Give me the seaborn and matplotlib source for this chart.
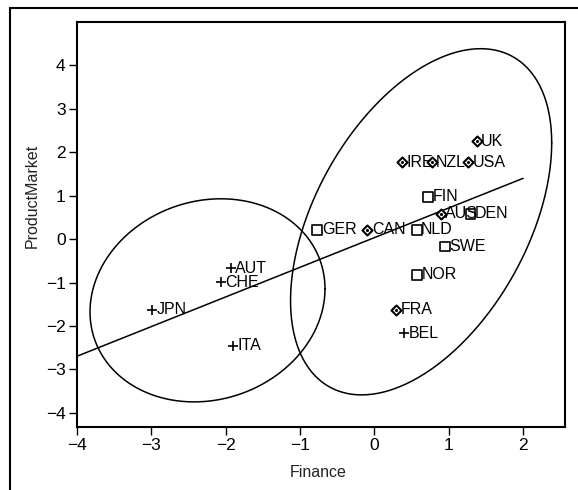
import numpy as np
import pandas as pd
import matplotlib
matplotlib.use("Agg")
import matplotlib.pyplot as plt
from matplotlib.patches import Rectangle
from matplotlib import font_manager
import seaborn as sns

# ---- data ----
countries = ["UK", "IRE", "NZL", "USA", "FIN", "AUS", "DEN", "GER", "CAN",
             "NLD", "SWE", "NOR", "FRA", "BEL", "AUT", "CHE", "JPN", "ITA"]
finance = [1.376, 0.368, 0.771, 1.263, 0.726, 0.896, 1.293, -0.766, -0.094,
           0.570, 0.950, 0.578, 0.292, 0.399, -1.926, -2.065, -2.984, -1.903]
product_market = [2.25, 1.765, 1.765, 1.765, 0.97, 0.583, 0.583, 0.214, 0.214,
                  0.214, -0.17, -0.82, -1.63, -2.17, -0.67, -0.99, -1.63, -2.46]
symbol = ["diamond", "diamond", "diamond", "diamond", "square", "diamond", "square",
          "square", "diamond", "square", "square", "square", "diamond", "plus",
          "plus", "plus", "plus", "plus"]

# fitted line end points
line_x = [-4.0, 2.0]
line_y = [-2.70, 1.40]

# ellipses: centre and covariance-like shape (x var, y var, xy cov)
ell_cx = [-2.242, 0.629]
ell_cy = [-1.41, 0.399]
ell_sxx = [2.494, 3.08]
ell_syy = [5.47, 15.89]
ell_sxy = [0.42, 3.19]

x_ticks = [-4, -3, -2, -1, 0, 1, 2]
y_ticks = [-4, -3, -2, -1, 0, 1, 2, 3, 4]

df = pd.DataFrame({"Finance": finance, "ProductMarket": product_market,
                   "country": countries, "symbol": symbol})

sns.set_theme(style="white")
plt.rcParams["font.family"] = ["Liberation Sans", "DejaVu Sans"]

installed = {f.name for f in font_manager.fontManager.ttflist}
label_family = ["Liberation Sans Narrow"] if "Liberation Sans Narrow" in installed else ["Liberation Sans"]
label_size = 13 if "Liberation Sans Narrow" in installed else 11.5

fig = plt.figure(figsize=(5.78, 4.9), dpi=100)
ax = fig.add_axes([76.7 / 578, 1 - 426.7 / 490, (564.5 - 76.7) / 578, (426.7 - 22) / 490])

# ellipses
t = np.linspace(0, 2 * np.pi, 400)
for cx, cy, sxx, syy, sxy in zip(ell_cx, ell_cy, ell_sxx, ell_syy, ell_sxy):
    L = np.linalg.cholesky(np.array([[sxx, sxy], [sxy, syy]]))
    pts = L @ np.vstack([np.cos(t), np.sin(t)])
    sns.lineplot(x=cx + pts[0], y=cy + pts[1], sort=False, color="black",
                 lw=1.1, ax=ax, estimator=None)

# line
sns.lineplot(x=line_x, y=line_y, color="black", lw=1.1, ax=ax, estimator=None)

# markers
d = df[df.symbol == "diamond"]
sns.scatterplot(data=d, x="Finance", y="ProductMarket", marker="D", s=26,
                facecolor="white", edgecolor="black", linewidth=1.5, ax=ax, zorder=3)
sns.scatterplot(data=d, x="Finance", y="ProductMarket", marker="o", s=5,
                color="black", linewidth=0, ax=ax, zorder=4)
sq = df[df.symbol == "square"]
sns.scatterplot(data=sq, x="Finance", y="ProductMarket", marker="s", s=50,
                facecolor="none", edgecolor="black", linewidth=1.2, ax=ax, zorder=3)
pl = df[df.symbol == "plus"]
sns.scatterplot(data=pl, x="Finance", y="ProductMarket", marker="+", s=55,
                color="black", linewidth=1.2, ax=ax, zorder=3)

for _, r in df.iterrows():
    ax.annotate(r.country, (r.Finance, r.ProductMarket), xytext=(3.2, 0),
                textcoords="offset points", ha="left", va="center",
                fontsize=label_size, family=label_family, color="black", zorder=5)

ax.set_xlim(-4.0, 2.556)
ax.set_ylim(-4.32, 5.0)
ax.set_xticks(x_ticks)
ax.set_yticks(y_ticks)
ax.set_xticklabels([str(v).replace("-", "\u2212") for v in x_ticks], fontsize=12.5)
ax.set_yticklabels([str(v).replace("-", "\u2212") for v in y_ticks], fontsize=12.5)
ax.tick_params(direction="out", length=6, width=1.0, color="black", pad=2,
               bottom=True, left=True, labelcolor="black")
for s in ax.spines.values():
    s.set_visible(True)
    s.set_color("black")
    s.set_linewidth(1.5)

ax.set_xlabel("Finance", fontsize=11.5, color="#222222")
ax.set_ylabel("ProductMarket", fontsize=11.5, color="#222222")
ax.xaxis.set_label_coords((318 - 76.7) / (564.5 - 76.7), -(472 - 426.7) / (426.7 - 22), transform=ax.transAxes)
ax.yaxis.label.set_va("center")
ax.xaxis.label.set_va("center")
ax.yaxis.set_label_coords(-(76.7 - 32) / (564.5 - 76.7), (426.7 - 196) / (426.7 - 22), transform=ax.transAxes)

fig.add_artist(Rectangle((10 / 578, -0.1), 1.2, 1.1 - 8 / 490, transform=fig.transFigure,
                         fill=False, edgecolor="black", lw=1.5))

fig.savefig("out.png", dpi=100)
